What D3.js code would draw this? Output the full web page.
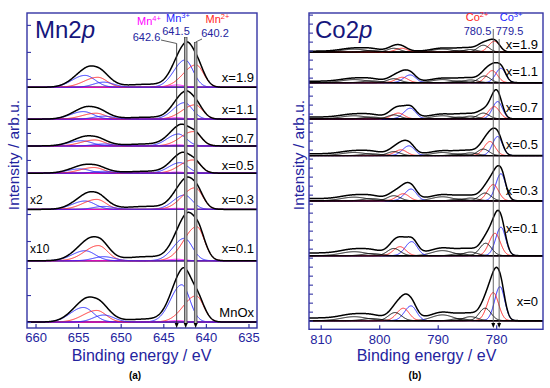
<!DOCTYPE html>
<html><head><meta charset="utf-8">
<script src="https://cdn.jsdelivr.net/npm/d3@7"></script>
<style>
body{margin:0;background:#fff}
svg{display:block}
text{font-family:"Liberation Sans",Arial,sans-serif}
</style>
</head><body>
<svg id="c" width="550" height="388"></svg>
<script>
// ================= DATA =================
// ---- Mn 2p panel ----
const mnSamples   = ["x=1.9","x=1.1","x=0.7","x=0.5","x=0.3","x=0.1","MnOx"];
const mnMultiplier= ["","","","","x2","x10",""];
const mnOffsets   = [8.69, 7.51, 6.52, 5.51, 4.17, 2.27, 0];      // stacking offsets (arb.u.)
const mnEnergyTicks = [660, 655, 650, 645, 640, 635];
const mnIntensityTicks = d3.range(0, 12, 1);
// fitted components (centre in eV, height in arb.u.) for each sample
const mn3p32Centre = [642.45,642.53,643.24,643.04,642.53,642.53,642.84];
const mn3p32Height = [1.01,0.61,0.44,0.39,0.53,0.83,1.38];
const mn2p32Centre = [641.16,641.28,641.48,641.55,641.28,641.08,641.16];
const mn2p32Height = [0.83,0.53,0.53,0.49,0.80,1.26,0.97];
const mn4p32Centre = [643.4,643.4,643.4,643.4,643.4,643.4,643.4];
const mn4p32Height = [0.085,0.055,0.04,0.04,0.04,0.055,0.055];
const mn3p12Centre = [654.19,654.39,654.58,654.78,654.19,654.19,654.39];
const mn3p12Height = [0.44,0.28,0.19,0.16,0.31,0.37,0.54];
const mn2p12Centre = [652.70,652.90,653.02,653.13,652.82,652.63,652.82];
const mn2p12Height = [0.37,0.22,0.22,0.21,0.37,0.56,0.43];
const mnLowCentre  = [652.0,652.0,652.0,652.0,652.0,652.0,652.0];
const mnLowHeight  = [0.19,0.11,0.07,0.07,0.11,0.15,0.26];
const mnSatCentre  = [647,647,647,647,647,647,647];
const mnSatHeight  = [0.11,0.07,0.07,0.07,0.11,0.15,0.11];
// half-widths (sigma, eV) on high / low binding-energy side, in component order
const mnSigmaHi = [1.3, 1.5, 0.9, 1.5, 1.6, 1.2, 2.5];
const mnSigmaLo = [0.95,0.9, 0.9, 1.2, 1.1, 1.2, 2.5];
const mnSpecies = ["Mn3+","Mn2+","Mn4+","Mn3+","Mn2+","Mn3+","sat"];
// reference energies
const mnRefLabels = ["642.6","641.5","640.2"];
const mnRefSpecies = ["Mn4+","Mn3+","Mn2+"];
const mnRefAxis = [643.43, 642.37, 641.20];     // where the guide lines sit on the axis

// ---- Co 2p panel ----
const coSamples   = ["x=1.9","x=1.1","x=0.7","x=0.5","x=0.3","x=0.1","x=0"];
const coOffsets   = [14.91, 13.22, 11.21, 9.17, 6.66, 3.61, 0];
const coEnergyTicks = [810, 800, 790, 780];
const coIntensityTicks = d3.range(0, 17.01, 0.5);
const co3p32Centre = [779.35,779.18,779.74,779.74,779.18,779.18,779.35];
const co3p32Height = [0,0.80,0.96,1.06,1.50,1.58,1.89];
const co2p32Centre = [780.3,780.67,780.33,781.06,780.5,780.2,780.5];
const co2p32Height = [0.61,0.67,0.68,0.78,0.90,1.24,1.56];
const coS1Centre = [782.2,782.03,782.2,782.2,781.9,781.8,781.9];
const coS1Height = [0.39,0.37,0.32,0.36,0.43,0.69,0.69];
const coS2Centre = [784.4,784.4,784.4,784.4,784.4,784.4,784.4];
const coS2Height = [0.15,0.15,0.15,0.15,0.15,0.20,0.22];
const coS3Centre = [789.2,789.2,789.2,789.2,789.2,789.2,789.2];
const coS3Height = [0.17,0.17,0.17,0.17,0.22,0.28,0.32];
const coS4Centre = [786.3,786.3,786.3,786.3,786.3,786.3,786.3];
const coS4Height = [0.10,0.10,0.10,0.10,0.10,0.12,0.12];
const co3p12Centre = [794.6,794.7,794.7,794.9,794.56,794.44,794.56];
const co3p12Height = [0,0.43,0.59,0.54,0.65,0.78,0.82];
const co2p12Centre = [796.15,796.05,796.73,796.27,795.88,796.44,795.88];
const co2p12Height = [0.22,0.30,0.32,0.32,0.39,0.50,0.69];
const coS5Centre = [797.5,797.5,797.5,797.5,797.5,797.5,797.3];
const coS5Height = [0.22,0.22,0.22,0.22,0.28,0.40,0.45];
const coS6Centre = [804.3,804.3,804.3,804.3,804.3,804.3,804.3];
const coS6Height = [0.17,0.17,0.17,0.17,0.20,0.22,0.22];
const coS7Centre = [801.3,801.3,801.3,801.3,801.3,801.3,801.3];
const coS7Height = [0.10,0.10,0.10,0.10,0.12,0.12,0.12];
const coSigmaHi = [0.9, 1.0, 1.0, 1.2, 1.8, 1.2, 1.1, 1.1, 1.1, 2.2, 1.5];
const coSigmaLo = [0.8, 0.9, 1.0, 1.2, 1.8, 1.2, 0.95,1.0, 1.1, 2.2, 1.5];
const coSpecies = ["Co3+","Co2+","sat","sat","sat","sat","Co3+","Co2+","sat","sat","sat"];
const coBgStep = [0.06,0.08,0.10,0.10,0.12,0.15,0.15];
const coRefLabels = ["780.5","779.5"];
const coRefSpecies = ["Co2+","Co3+"];
const coRefAxis = [780.5, 779.5];

// ================= STYLE =================
const speciesColor = {"Mn4+":"#ff00ff","Mn3+":"#2424ff","Mn2+":"#ff2424",
                      "Co3+":"#2424ff","Co2+":"#ff2424","sat":"#000"};
const AXIS = "#3434a4", NAVY = "#24249e";

const svg = d3.select("#c");

function peak(v, c, h, sHi, sLo){
  const s = v >= c ? sHi : sLo; const d = (v - c) / s;
  return h * Math.exp(-0.5 * d * d);
}
function step(v, c, w){ return 1 / (1 + Math.exp(-(v - c) / w)); }

function drawPanel(p){
  const [x0, x1] = p.x.range();
  const [yb, yt] = p.y.range();
  const clipId = "clip" + p.id;
  svg.append("clipPath").attr("id", clipId)
     .append("rect").attr("x", x0).attr("y", yt).attr("width", x1 - x0).attr("height", yb - yt);
  const plot = svg.append("g").attr("clip-path", `url(#${clipId})`);
  const dom = p.x.domain();
  const grid = d3.range(Math.min(...dom), Math.max(...dom) + 1e-9, 0.04);

  p.samples.forEach((s, i) => {
    const off = p.offsets[i];
    plot.append("line").attr("x1", x0).attr("x2", x1)
      .attr("y1", p.y(off)).attr("y2", p.y(off))
      .attr("stroke", "#222").attr("stroke-width", 1.4);
    p.comps.forEach(c => {
      if (!c.height[i] || !c.drawn) return;
      const ln = d3.line().x(v => p.x(v))
        .y(v => p.y(off + peak(v, c.centre[i], c.height[i], c.sHi, c.sLo)));
      plot.append("path").attr("d", ln(grid)).attr("fill", "none")
        .attr("stroke", speciesColor[c.species]).attr("stroke-width", 1);
    });
    const total = v => off + d3.sum(p.comps, c => c.height[i] ? peak(v, c.centre[i], c.height[i], c.sHi, c.sLo) : 0)
                     + (p.bg ? p.bg[i] * step(v, p.bgCentre, p.bgWidth) : 0);
    plot.append("path").attr("d", d3.line().x(v => p.x(v)).y(v => p.y(total(v)))(grid))
      .attr("fill", "none").attr("stroke", "#000").attr("stroke-width", 1.5);

    svg.append("text").attr("x", p.labelX).attr("y", p.y(off) - p.labelGap[i])
      .attr("text-anchor", "end").attr("font-size", 13).attr("fill", "#000").text(s);
    if (p.mult && p.mult[i]) {
      svg.append("text").attr("x", x0 + 3).attr("y", p.y(off) - p.multGap[i])
        .attr("font-size", 12).attr("fill", "#000").text(p.mult[i]);
    }
  });

  // axes
  const ax = svg.append("g").attr("transform", `translate(0,${yb})`)
    .call(d3.axisBottom(p.x).tickValues(p.xTicks).tickSizeInner(-4).tickSizeOuter(0).tickPadding(5).tickFormat(d3.format("d")));
  ax.select(".domain").remove();
  ax.selectAll("line").attr("stroke", AXIS).attr("stroke-width", 1.2);
  ax.selectAll("text").attr("font-size", 13).attr("fill", NAVY)
    .attr("font-family", '"Liberation Sans",Arial,sans-serif');
  const ay = svg.append("g").attr("transform", `translate(${x0},0)`)
    .call(d3.axisLeft(p.y).tickValues(p.yTicks).tickSizeInner(-4).tickSizeOuter(0).tickFormat(""));
  ay.select(".domain").remove();
  ay.selectAll("line").attr("stroke", AXIS).attr("stroke-width", 1.1);
  svg.append("rect").attr("x", x0).attr("y", yt).attr("width", x1 - x0).attr("height", yb - yt)
    .attr("fill", "none").attr("stroke", AXIS).attr("stroke-width", 1.4);

  svg.append("text").attr("x", (x0 + x1) / 2 + p.xTitleShift).attr("y", 361)
    .attr("text-anchor", "middle").attr("font-size", 16).attr("fill", NAVY).text("Binding energy / eV");
  svg.append("text").attr("transform", `translate(${p.yTitleX},155) rotate(-90)`)
    .attr("text-anchor", "middle").attr("font-size", 15.5).attr("fill", NAVY).text("Intensity / arb.u.");

  const t = svg.append("text").attr("x", p.titleX).attr("y", 38).attr("font-size", 24).attr("fill", "#16167c");
  t.append("tspan").text(p.title);
  t.append("tspan").attr("font-style", "italic").text("p");

  svg.append("text").attr("x", p.capX).attr("y", 379).attr("text-anchor", "middle")
    .attr("font-family", '"Liberation Serif","DejaVu Serif",serif').attr("font-weight", "bold")
    .attr("font-size", 10).text(p.caption);
}

// ---- scales ----
const xMn = d3.scaleLinear().domain([661, 634]).range([27, 257]);
const yMn = d3.scaleLinear().domain([-0.22, 11.44]).range([328, 13]);
const xCo = d3.scaleLinear().domain([812, 772]).range([309, 543]);
const yCo = d3.scaleLinear().domain([-0.48, 17.09]).range([329.3, 13]);

const mnCentres = [mn3p32Centre, mn2p32Centre, mn4p32Centre, mn3p12Centre, mn2p12Centre, mnLowCentre, mnSatCentre];
const mnHeights = [mn3p32Height, mn2p32Height, mn4p32Height, mn3p12Height, mn2p12Height, mnLowHeight, mnSatHeight];
const mnComps = mnCentres.map((c, k) => ({centre: c, height: mnHeights[k], sHi: mnSigmaHi[k], sLo: mnSigmaLo[k],
  species: mnSpecies[k], drawn: mnSpecies[k] !== "sat"}));

const coCentres = [co3p32Centre, co2p32Centre, coS1Centre, coS2Centre, coS3Centre, coS4Centre, co3p12Centre, co2p12Centre, coS5Centre, coS6Centre, coS7Centre];
const coHeights = [co3p32Height, co2p32Height, coS1Height, coS2Height, coS3Height, coS4Height, co3p12Height, co2p12Height, coS5Height, coS6Height, coS7Height];
const coComps = coCentres.map((c, k) => ({centre: c, height: coHeights[k], sHi: coSigmaHi[k], sLo: coSigmaLo[k],
  species: coSpecies[k], drawn: true}));

drawPanel({id: "mn", x: xMn, y: yMn, samples: mnSamples, offsets: mnOffsets, comps: mnComps,
  xTicks: mnEnergyTicks, yTicks: mnIntensityTicks, labelX: 254, labelGap: [5,5,3,3,5,8,5],
  mult: mnMultiplier, multGap: [0,0,0,0,5,8,0], xTitleShift: -0.5, yTitleX: 18.5,
  title: "Mn2", titleX: 35, caption: "(a)", capX: 135});
drawPanel({id: "co", x: xCo, y: yCo, samples: coSamples, offsets: coOffsets, comps: coComps,
  bg: coBgStep, bgCentre: 780.5, bgWidth: 0.8,
  xTicks: coEnergyTicks, yTicks: coIntensityTicks, labelX: 538, labelGap: [3.5,6.5,7,7,6,23,15],
  xTitleShift: 0.5, yTitleX: 303.5, title: "Co2", titleX: 315, caption: "(b)", capX: 415});

// ---- reference-energy guide lines ----
function arrow(x, y){
  svg.append("path").attr("d", `M${x-2},${y-5}L${x+2},${y-5}L${x},${y}Z`).attr("fill", "#000");
}
function speciesLabel(cx, cy, sp){
  const m = sp.match(/^([A-Za-z]+)(.*)$/);
  const t = svg.append("text").attr("x", cx).attr("y", cy).attr("text-anchor", "middle")
    .attr("font-size", 11).attr("fill", speciesColor[sp]);
  t.append("tspan").text(m[1]);
  t.append("tspan").attr("dy", -4).attr("font-size", 7.5).text(m[2]);
}
// Mn
const mnLabelPos = [[149, 24.5, 146.5, 40.5], [178, 22, 176, 35], [217.5, 22.5, 215, 37]];
const mnLineTop = [43, 37, 42];
mnRefAxis.forEach((e, k) => {
  const x = xMn(e);
  speciesLabel(mnLabelPos[k][0], mnLabelPos[k][1], mnRefSpecies[k]);
  svg.append("text").attr("x", mnLabelPos[k][2]).attr("y", mnLabelPos[k][3]).attr("text-anchor", "middle")
    .attr("font-size", 11).attr("fill", NAVY).text(mnRefLabels[k]);
  if (k === 0) {
    svg.append("line").attr("x1", 161).attr("y1", 40).attr("x2", x).attr("y2", 43.5).attr("stroke", "#333").attr("stroke-width", 0.8);
    svg.append("line").attr("x1", x).attr("x2", x).attr("y1", 43.5).attr("y2", 324).attr("stroke", "#333").attr("stroke-width", 0.9);
  } else {
    if (k === 2) svg.append("line").attr("x1", 202).attr("y1", 39).attr("x2", x).attr("y2", 42).attr("stroke", "#333").attr("stroke-width", 0.8);
    svg.append("line").attr("x1", x).attr("x2", x).attr("y1", mnLineTop[k]).attr("y2", 324).attr("stroke", "#444").attr("stroke-width", 3.4);
    svg.append("line").attr("x1", x).attr("x2", x).attr("y1", mnLineTop[k] + 0.5).attr("y2", 323.5).attr("stroke", "#b4b4b4").attr("stroke-width", 1.8);
  }
  arrow(x, 328);
});
// Co
const coLabelPos = [[477, 21, 477.5, 35], [511, 21, 509.5, 35]];
const coLineTop = [29, 39];
coRefAxis.forEach((e, k) => {
  const x = xCo(e);
  speciesLabel(coLabelPos[k][0], coLabelPos[k][1], coRefSpecies[k]);
  svg.append("text").attr("x", coLabelPos[k][2]).attr("y", coLabelPos[k][3]).attr("text-anchor", "middle")
    .attr("font-size", 11).attr("fill", NAVY).text(coRefLabels[k]);
  svg.append("line").attr("x1", x).attr("x2", x).attr("y1", coLineTop[k]).attr("y2", 324)
    .attr("stroke", "#555").attr("stroke-width", 0.9);
  arrow(x, 328);
});
</script>
</body></html>
